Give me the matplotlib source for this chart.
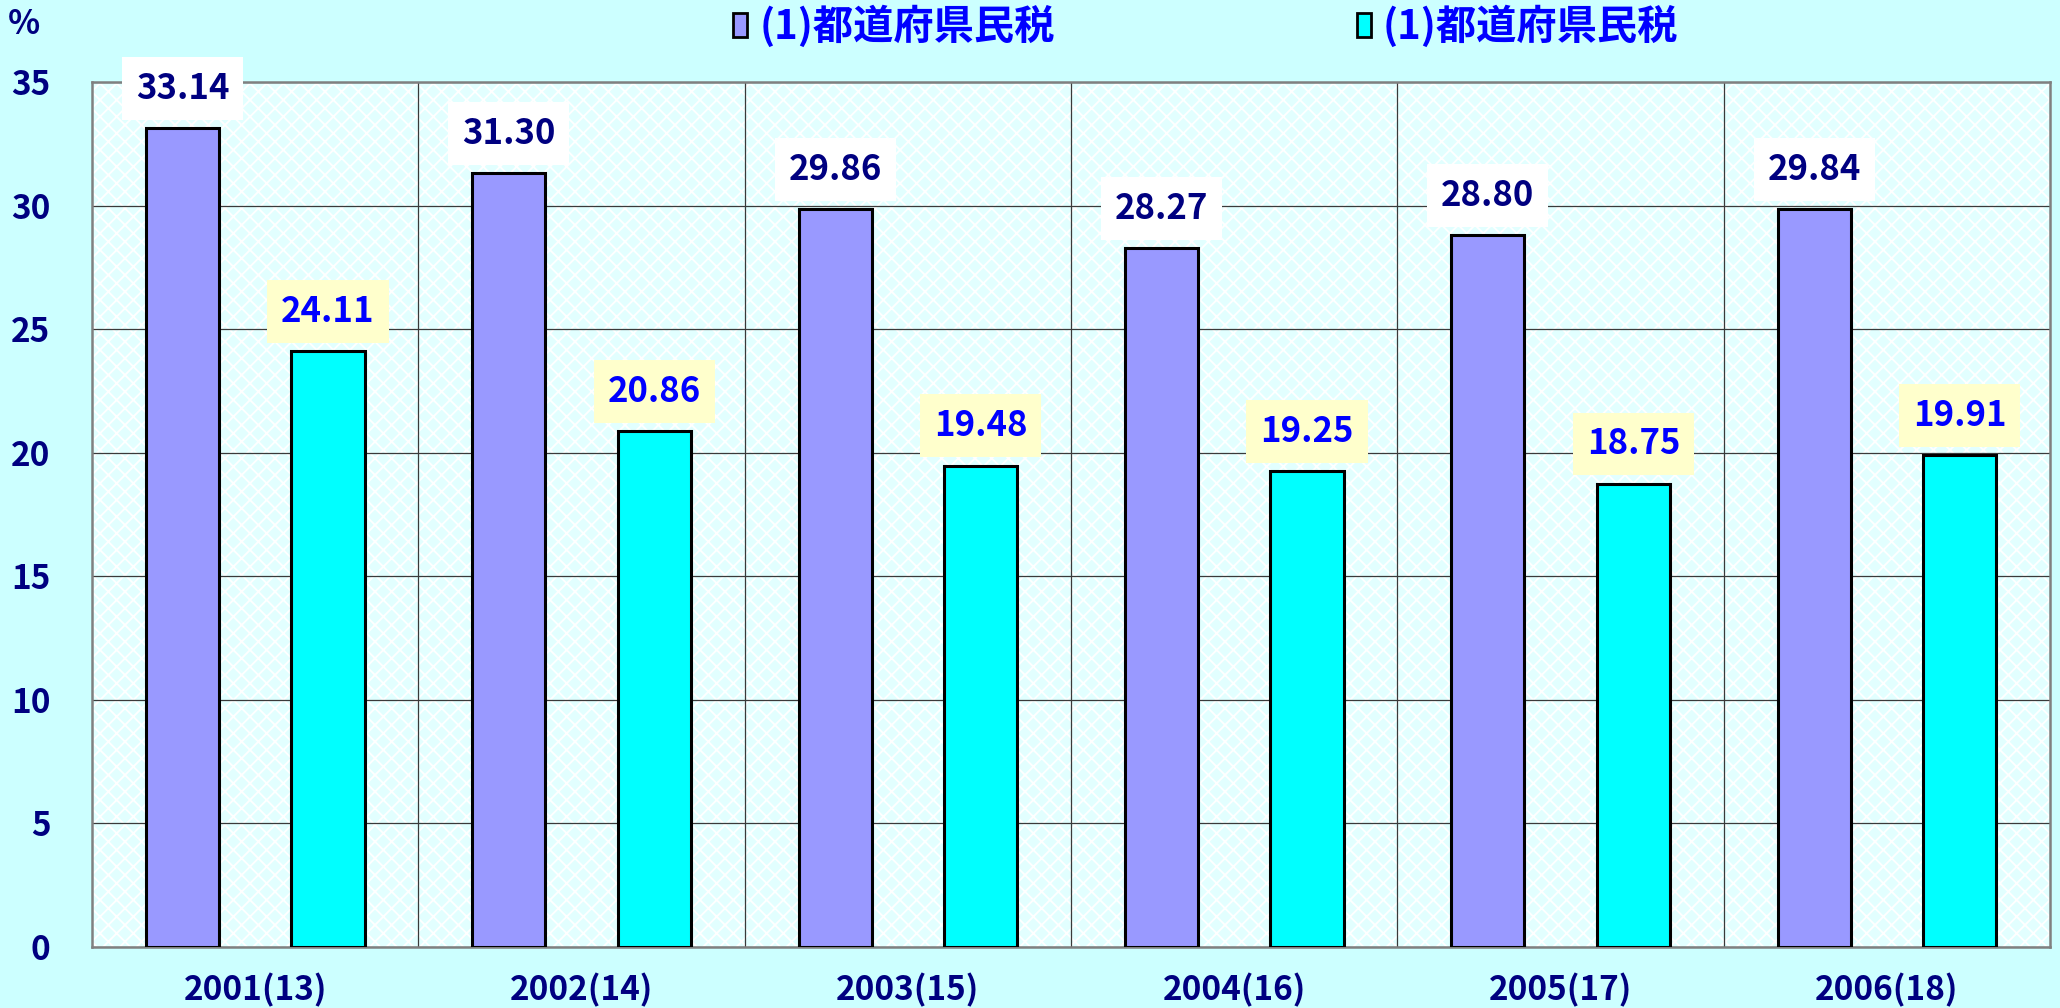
import matplotlib
matplotlib.use("Agg")
import matplotlib.pyplot as plt
import numpy as np
from matplotlib.patches import Patch

plt.rcParams.update({"font.family": ["Noto Sans CJK JP", "DejaVu Sans"],
                     "font.weight": "bold", "hatch.linewidth": 1.3})

years = ["2001(13)", "2002(14)", "2003(15)", "2004(16)", "2005(17)", "2006(18)"]
series_a = [33.14, 31.30, 29.86, 28.27, 28.80, 29.84]
series_b = [24.11, 20.86, 19.48, 19.25, 18.75, 19.91]
legend_labels = ["(1)都道府県民税", "(1)都道府県民税"]

NAVY, BLUE = "#000080", "#0000FF"
PURPLE, CYAN = "#9999FF", "#00FFFF"
BG = "#CCFFFF"
GRID = "#3a3a3a"

fig = plt.figure(figsize=(20.6, 10.08), dpi=100)
fig.patch.set_facecolor(BG)
ax = fig.add_axes([0.0447, 0.0605, 0.9505, 0.8582])
ax.patch.set_facecolor("#E2FFFF")
ax.patch.set_edgecolor("white")
ax.patch.set_hatch("xx")
ax.patch.set_linewidth(0)

x = np.arange(len(years))
off, w = 0.223, 0.224
bars_a = ax.bar(x - off, series_a, w, color=PURPLE, edgecolor="black", lw=2.2, zorder=3)
bars_b = ax.bar(x + off, series_b, w, color=CYAN, edgecolor="black", lw=2.2, zorder=3)

ax.set_xlim(-0.5, len(years) - 0.5)
ax.set_ylim(0, 35)
ax.set_yticks(range(0, 36, 5))
ax.set_xticks(x, years)
ax.set_xticks(x[:-1] + 0.5, minor=True)
ax.set_axisbelow(True)
ax.grid(axis="y", which="major", color=GRID, lw=0.9)
ax.grid(axis="x", which="minor", color=GRID, lw=0.9)
ax.tick_params(which="both", length=0)
ax.tick_params(axis="y", pad=30, labelcolor=NAVY, labelsize=24)
ax.tick_params(axis="x", pad=19, labelcolor=NAVY, labelsize=24)
for s in ax.spines.values():
    s.set_color("#808080"); s.set_linewidth(1.8)

for bars, vals, tc, bc in [(bars_a, series_a, NAVY, "white"), (bars_b, series_b, BLUE, "#FFFFCC")]:
    for r, v in zip(bars, vals):
        ax.annotate(f"{v:.2f}", (r.get_x() + r.get_width() / 2, v), xytext=(0, 21),
                    textcoords="offset points", ha="center", va="baseline", fontsize=25,
                    color=tc, bbox=dict(boxstyle="square,pad=0.4", fc=bc, ec="none"),
                    annotation_clip=False, zorder=5)

fig.text(24 / 2060, 1 - 25 / 1008, "%", ha="center", va="center", fontsize=24, color=NAVY)

handles = [Patch(fc=PURPLE, ec="black", lw=2), Patch(fc=CYAN, ec="black", lw=2)]
fig.legend(handles, legend_labels, ncol=2, loc="center left",
           bbox_to_anchor=(733 / 2060, 1 - 27 / 1008), frameon=False, fontsize=29,
           labelcolor=BLUE, handlelength=0.35, handleheight=0.55, handletextpad=0.3,
           columnspacing=7.5, borderpad=0, borderaxespad=0)

fig.savefig("out.png", dpi=100, facecolor=fig.get_facecolor())
